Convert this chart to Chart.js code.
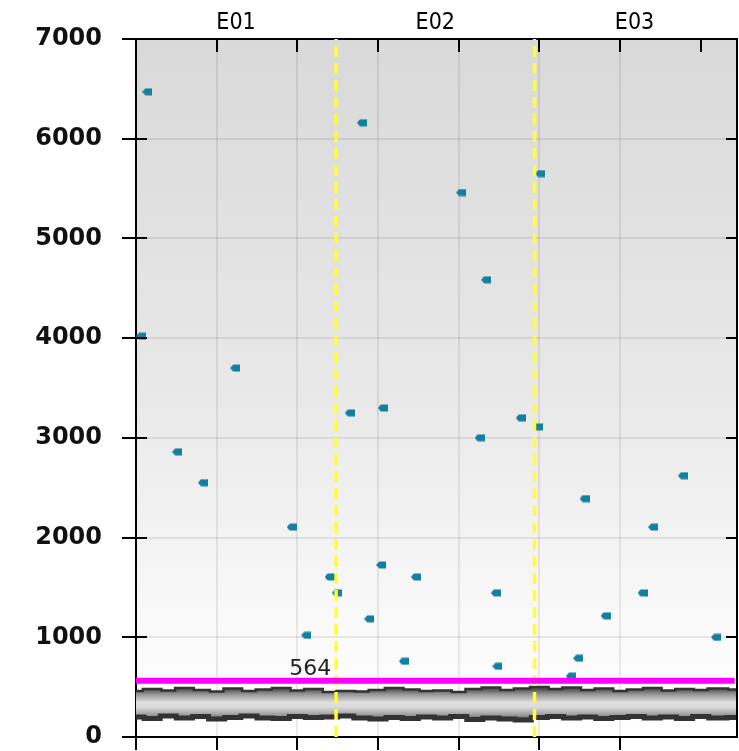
<!DOCTYPE html>
<html lang="en">
<head>
    <meta charset="UTF-8">
    <title>E01 - E03 scatter</title>
    <script src="https://cdn.jsdelivr.net/npm/chart.js"></script>
    <style>
        body {
            margin: 0;
            background: #fff;
        }
        .chart-box {
            width: 739px;
            height: 751px;
        }
    </style>
</head>
<body>
<div class="chart-box">
    <canvas id="scatterChart" width="739" height="751"></canvas>
</div>
<script>
// groups along the top axis
const groupLabels = ['E01', 'E02', 'E03'];
const groupCenters = [12.4, 37.1, 61.8];
const groupBounds = [24.8, 49.4];
const xMax = 74.5;

// limit line
const limitValue = 564;
const limitEnd = 74.2;

// measured points
const pointX = [0.6, 1.4, 5.1, 8.3, 12.3, 19.3, 21.1, 24.0, 24.9, 26.5, 28.0, 28.9, 30.4, 30.6, 33.2, 34.7,
    40.3, 42.6, 43.4, 44.6, 44.8, 47.7, 49.8, 50.1, 53.9, 54.8, 55.6, 58.2, 62.8, 64.1, 67.8, 71.9];
const pointY = [4020, 6470, 2860, 2550, 3700, 2105, 1020, 1605, 1445, 3250, 6160, 1185, 1725, 3300, 760, 1605,
    5460, 3000, 4585, 1445, 710, 3200, 3110, 5650, 610, 790, 2390, 1215, 1445, 2105, 2620, 1000];

// dense background band (upper / lower edge)
const bandX = [0, 2, 4, 6, 8, 10, 12, 14, 16, 18, 20, 22, 24, 26, 28, 30, 32, 34, 36, 38,
    40, 42, 44, 46, 48, 50, 52, 54, 56, 58, 60, 62, 64, 66, 68, 70, 72, 74.5];
const bandHigh = [450, 470, 455, 480, 460, 445, 475, 450, 465, 480, 455, 470, 440, 450, 445, 460, 480, 465, 450, 455,
    440, 470, 485, 460, 475, 490, 470, 485, 460, 475, 450, 465, 480, 455, 470, 460, 475, 465];
const bandLow = [200, 185, 210, 190, 205, 180, 195, 210, 190, 185, 205, 195, 200, 210, 190, 180, 195, 185, 200, 190,
    205, 175, 190, 180, 170, 195, 205, 190, 200, 185, 195, 205, 190, 200, 185, 205, 190, 195];

const yMax = 7000;
const yStep = 1000;

// little left pointing marker
function makeMarker() {
    const c = document.createElement('canvas');
    c.width = 10;
    c.height = 8;
    const g = c.getContext('2d');
    g.fillStyle = '#13809f';
    g.beginPath();
    g.moveTo(0, 4);
    g.lineTo(3, 0.5);
    g.lineTo(10, 0.5);
    g.lineTo(10, 7.5);
    g.lineTo(3, 7.5);
    g.closePath();
    g.fill();
    return c;
}
const marker = makeMarker();

const toXY = (xs, ys) => xs.map((x, i) => ({ x: x, y: ys[i] }));

// no extra label padding around the plot
function noPad(scale) {
    scale.paddingTop = 0;
    scale.paddingBottom = 0;
    scale.paddingLeft = 0;
    scale.paddingRight = 0;
}

const bgPlugin = {
    id: 'bgPlugin',
    beforeDraw(chart) {
        const a = chart.chartArea;
        const ctx = chart.ctx;
        const grad = ctx.createLinearGradient(0, a.top, 0, a.bottom);
        grad.addColorStop(0, '#d9d9d9');
        grad.addColorStop(0.5, '#e8e8e8');
        grad.addColorStop(0.85, '#fafafa');
        grad.addColorStop(1, '#ffffff');
        ctx.save();
        ctx.fillStyle = grad;
        ctx.fillRect(a.left, a.top, a.right - a.left, a.bottom - a.top);
        ctx.restore();
    },
    afterDraw(chart) {
        const a = chart.chartArea;
        const ctx = chart.ctx;
        const xs = chart.scales.x;
        const ys = chart.scales.y;
        ctx.save();
        ctx.strokeStyle = '#000';
        ctx.lineWidth = 2;
        // right frame line
        ctx.beginPath();
        ctx.moveTo(a.right, a.top);
        ctx.lineTo(a.right, a.bottom);
        ctx.stroke();
        // inner tick marks on top, left and right
        for (let v = 0; v <= 70; v += 10) {
            const px = Math.round(xs.getPixelForValue(v));
            ctx.beginPath();
            ctx.moveTo(px, a.top);
            ctx.lineTo(px, a.top + 13);
            ctx.stroke();
        }
        for (let v = 0; v <= yMax; v += yStep) {
            const py = Math.round(ys.getPixelForValue(v));
            ctx.beginPath();
            ctx.moveTo(a.left, py);
            ctx.lineTo(a.left + 11, py);
            ctx.moveTo(a.right, py);
            ctx.lineTo(a.right - 11, py);
            ctx.stroke();
        }
        // limit label
        ctx.fillStyle = '#222';
        ctx.font = '22px "DejaVu Sans", sans-serif';
        ctx.textAlign = 'right';
        ctx.textBaseline = 'alphabetic';
        ctx.fillText(String(limitValue), xs.getPixelForValue(24.2), ys.getPixelForValue(limitValue) - 6);
        ctx.restore();
    }
};

const ctx = document.getElementById('scatterChart').getContext('2d');
new Chart(ctx, {
    type: 'line',
    data: {
        datasets: [
            {
                data: toXY(bandX, bandHigh),
                borderColor: '#333333',
                borderWidth: 5,
                stepped: 'middle',
                pointRadius: 0,
                fill: false,
                order: 5
            },
            {
                data: toXY(bandX, bandLow),
                borderColor: '#333333',
                borderWidth: 5,
                stepped: 'middle',
                pointRadius: 0,
                fill: '-1',
                backgroundColor: (c) => {
                    const chart = c.chart;
                    if (!chart.chartArea) return '#ccc';
                    const ys = chart.scales.y;
                    const g = chart.ctx.createLinearGradient(0, ys.getPixelForValue(495), 0, ys.getPixelForValue(165));
                    g.addColorStop(0, '#404040');
                    g.addColorStop(0.2, '#959595');
                    g.addColorStop(0.45, '#e0e0e0');
                    g.addColorStop(0.6, '#dadada');
                    g.addColorStop(0.85, '#959595');
                    g.addColorStop(1, '#404040');
                    return g;
                },
                order: 4
            },
            {
                data: toXY(pointX, pointY),
                showLine: false,
                pointStyle: marker,
                pointRadius: 4,
                order: 3
            },
            {
                data: [{ x: groupBounds[0], y: 0 }, { x: groupBounds[0], y: yMax }],
                borderColor: '#ffff33',
                borderWidth: 3.5,
                borderDash: [11, 6],
                pointRadius: 0,
                order: 2
            },
            {
                data: [{ x: groupBounds[1], y: 0 }, { x: groupBounds[1], y: yMax }],
                borderColor: '#ffff33',
                borderWidth: 3.5,
                borderDash: [11, 6],
                pointRadius: 0,
                order: 2
            },
            {
                data: [{ x: 0, y: limitValue }, { x: limitEnd, y: limitValue }],
                borderColor: '#ff00ff',
                borderWidth: 6,
                pointRadius: 0,
                order: 1
            }
        ]
    },
    options: {
        responsive: false,
        animation: false,
        events: [],
        layout: { padding: { left: 0, top: 0, bottom: 0, right: 2 }, autoPadding: false },
        plugins: {
            legend: { display: false },
            tooltip: { enabled: false }
        },
        scales: {
            x: {
                type: 'linear',
                position: 'bottom',
                min: 0,
                max: xMax,
                afterBuildTicks(scale) {
                    scale.ticks = scale.ticks.filter(t => t.value % 10 === 0);
                },
                ticks: { stepSize: 10, display: false },
                grid: {
                    color: 'rgba(0,0,0,0.08)',
                    lineWidth: 2,
                    tickColor: '#000',
                    tickWidth: 2,
                    tickLength: 13
                },
                border: { color: '#000', width: 2 },
                afterFit(scale) { scale.height = 14; noPad(scale); }
            },
            xTop: {
                type: 'linear',
                position: 'top',
                min: 0,
                max: xMax,
                afterBuildTicks(scale) {
                    scale.ticks = groupCenters.map(v => ({ value: v }));
                },
                ticks: {
                    callback: (v, i) => groupLabels[i],
                    color: '#000',
                    font: { family: '"DejaVu Sans Condensed", "DejaVu Sans", sans-serif', size: 23 },
                    padding: 2,
                    maxRotation: 0
                },
                grid: { drawOnChartArea: false, drawTicks: false },
                border: { color: '#000', width: 2 },
                afterFit(scale) { scale.height = 39; noPad(scale); }
            },
            y: {
                min: 0,
                max: yMax,
                ticks: {
                    stepSize: yStep,
                    callback: (v) => String(v),
                    color: '#111',
                    font: { family: '"DejaVu Sans", sans-serif', size: 24, weight: 'bold' },
                    padding: 20
                },
                grid: {
                    color: 'rgba(0,0,0,0.08)',
                    lineWidth: 2,
                    tickColor: '#000',
                    tickWidth: 2,
                    tickLength: 14
                },
                border: { color: '#000', width: 2 },
                afterFit(scale) { scale.width = 136; noPad(scale); }
            }
        }
    },
    plugins: [bgPlugin]
});
</script>
</body>
</html>
